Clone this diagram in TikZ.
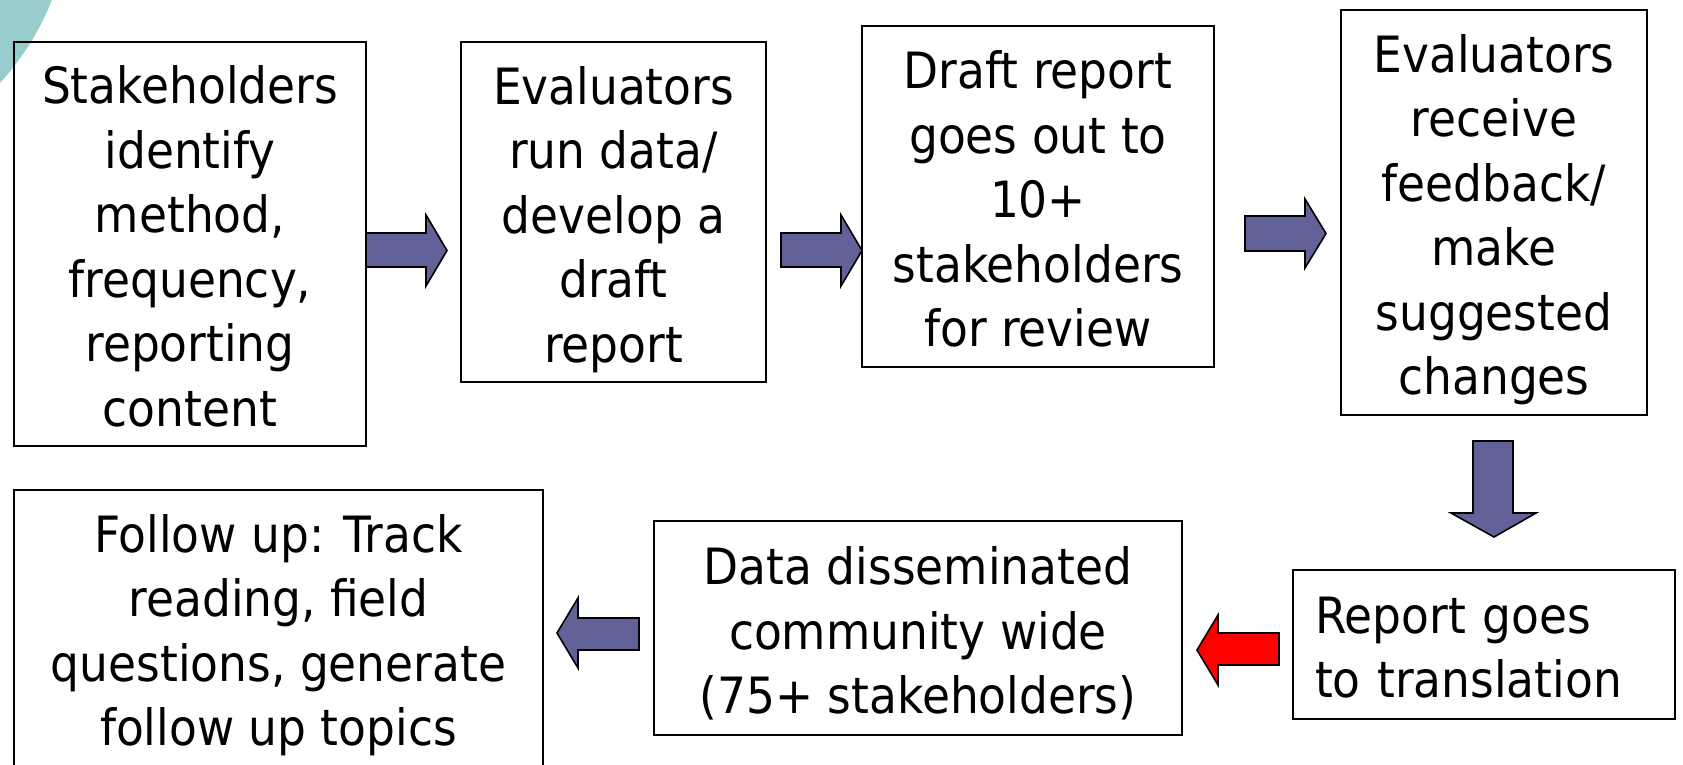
\documentclass[tikz,border=0pt]{standalone}
\usepackage{fontspec}
\setmainfont{DejaVu Sans}[FakeStretch=0.91]
\definecolor{arrowfill}{RGB}{98,98,152}
\definecolor{tealbg}{RGB}{153,204,204}
\newcommand{\topstr}{\rule{0pt}{54pt}}
\newcommand{\botstr}{\rule[-12pt]{0pt}{0pt}}
\begin{document}
\begin{tikzpicture}[x=1pt,y=-1pt,
  box/.style={draw=black, line width=1.6pt, inner sep=0pt, align=center,
    font=\fontsize{50}{64.5}\selectfont},
  barrow/.style={draw=black, line width=1.6pt, fill=arrowfill, line join=miter},
  redarrow/.style={draw=black, line width=1.6pt, fill=red, line join=miter}]
\useasboundingbox (0,0) rectangle (1683,764);
\clip (0,0) rectangle (1683,764);
\fill[tealbg] (-200,-100) circle (271pt);

\node[box, minimum width=352pt, minimum height=404pt] (b1) at (190,244)
  {\topstr Stakeholders\\identify\\method,\\frequency,\\reporting\\content\botstr};
\node[box, minimum width=305pt, minimum height=340pt] (b2) at (613.5,212)
  {\topstr Evaluators\\run data/\\develop a\\draft\\report\botstr};
\node[box, minimum width=352pt, minimum height=341pt] (b3) at (1038,196.5)
  {\topstr Draft report\\goes out to\\10+\\stakeholders\\for review\botstr};
\node[box, minimum width=306pt, minimum height=405pt] (b4) at (1494,212.5)
  {\topstr Evaluators\\receive\\feedback/\\make\\suggested\\changes\botstr};
\node[box, align=left, text width=338pt, minimum width=382pt, minimum height=149pt] (b5) at (1484,644.5)
  {\topstr Report goes\\to translation\botstr};
\node[box, minimum width=528pt, minimum height=214pt] (b6) at (918,628)
  {\topstr Data disseminated\\community wide\\(75+ stakeholders)\botstr};
\node[box, minimum width=529pt, minimum height=276pt] (b7) at (278.5,628)
  {\topstr Follow up: Track\\reading, field\\questions, generate\\follow up topics\botstr};

% block arrows between boxes
\draw[barrow] (366,233) -- (426,233) -- (426,215) -- (447,250.5) -- (426,286) -- (426,267) -- (366,267) -- cycle;
\draw[barrow] (781,233) -- (841,233) -- (841,215) -- (862,250.5) -- (841,286) -- (841,267) -- (781,267) -- cycle;
\draw[barrow] (1245,216) -- (1305,216) -- (1305,199) -- (1326,233.5) -- (1305,268) -- (1305,251) -- (1245,251) -- cycle;
\draw[barrow] (1473,441) -- (1513,441) -- (1513,513) -- (1536,513) -- (1494,537) -- (1451,513) -- (1473,513) -- cycle;
\draw[redarrow] (1279,633) -- (1218,633) -- (1218,615) -- (1197,650) -- (1218,685) -- (1218,665) -- (1279,665) -- cycle;
\draw[barrow] (639,618) -- (578,618) -- (578,598) -- (557,633) -- (578,668) -- (578,650) -- (639,650) -- cycle;
\end{tikzpicture}
\end{document}
